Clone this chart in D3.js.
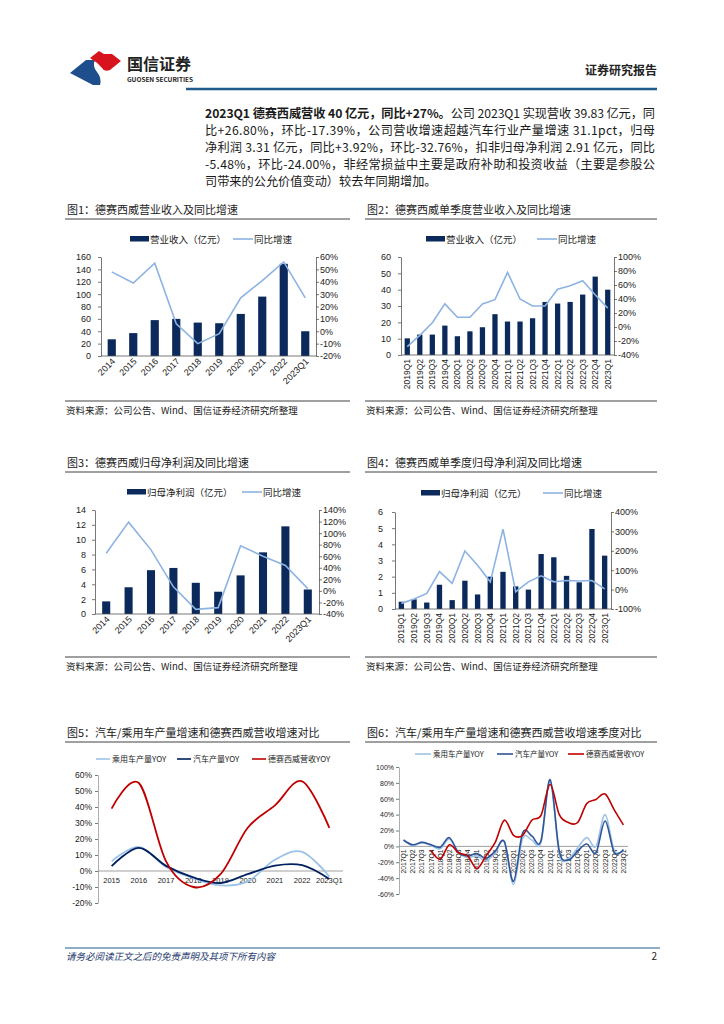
<!DOCTYPE html>
<html><head><meta charset="utf-8">
<script src="https://cdn.jsdelivr.net/npm/d3@7/dist/d3.min.js"></script>
<style>
body{margin:0;background:#fff}
svg{display:block}
text{font-family:"Noto Sans CJK SC","Noto Sans",sans-serif;fill:#222}
</style>
</head><body>
<svg id="c" width="724" height="1024"></svg>
<script>
// ---------------- DATA ----------------
const annualCats = ["2014","2015","2016","2017","2018","2019","2020","2021","2022","2023Q1"];
const annualRevenue = [27, 37, 58, 60, 54, 53, 68, 96, 149, 40];
const annualRevenueYoY = [48, 39, 55, 6, -10, -2, 27, 41, 56, 27];
const quarterCats = ["2019Q1","2019Q2","2019Q3","2019Q4","2020Q1","2020Q2","2020Q3","2020Q4","2021Q1","2021Q2","2021Q3","2021Q4","2022Q1","2022Q2","2022Q3","2022Q4","2023Q1"];
const quarterRevenue = [10.2, 12.5, 12.5, 18, 11.5, 14.5, 17, 25, 20.5, 20.5, 22.5, 32.5, 31.5, 32.5, 37, 48, 40];
const quarterRevenueYoY = [-28, -12, 6, 33, 14, 14, 33, 39, 78, 40, 30, 30, 54, 59, 66, 46, 27];
const annualProfit = [1.7, 3.6, 5.9, 6.2, 4.2, 3.0, 5.2, 8.3, 11.8, 3.3];
const annualProfitYoY = [65, 119, 71, 7, -32, -29, 78, 60, 44, 4];
const quarterProfit = [0.45, 0.6, 0.4, 1.5, 0.55, 1.75, 0.9, 2.0, 2.3, 1.4, 1.2, 3.4, 3.2, 2.05, 1.65, 4.95, 3.3];
const quarterProfitYoY = [-71, -48, -20, 93, 32, 199, 126, 40, 312, -11, 40, 71, 40, 47, 44, 47, 4];
const cmpYearCats = ["2015","2016","2017","2018","2019","2020","2021","2022","2023Q1"];
const paxCarYoY = [6, 15, 2.5, -4.5, -9, -6.5, 7, 12, -3.5];
const autoYoY = [3, 14.5, 3.2, -4, -7.5, -2, 3.4, 3.6, -5];
const desayYoY = [39, 55, 6, -10, -2, 27, 41, 56, 27];
const cmpQuarterCats = ["2017Q1","2017Q2","2017Q3","2017Q4","2018Q1","2018Q2","2018Q3","2018Q4","2019Q1","2019Q2","2019Q3","2019Q4","2020Q1","2020Q2","2020Q3","2020Q4","2021Q1","2021Q2","2021Q3","2021Q4","2022Q1","2022Q2","2022Q3","2022Q4","2023Q1"];
const paxCarQYoY = [8, 1, 5, 1, -3, 9, -8, -14, -12, -18, -8, 6, -48, 10, 8, 5, 83, -10, -15, -2, 11, 0, 40, -5, -5];
const autoQYoY = [8, 2, 5, 2, -1, 11, -8, -12, -9, -15, -6, 6, -44, 17, 13, 7, 84, -6, -17, -6, 3, -8, 32, -8, -4];
const desayQYoY = [null, null, null, -5, -16, 2, -8, -12, -28, -12, 5, 33, 14, 14, 33, 39, 78, 40, 30, 30, 54, 59, 66, 46, 27];

const ticksRev = [0,20,40,60,80,100,120,140,160];
const ticksRevYoY = [-20,-10,0,10,20,30,40,50,60];
const ticksQRev = [0,10,20,30,40,50,60];
const ticksQRevYoY = [-40,-20,0,20,40,60,80,100];
const ticksProfit = [0,2,4,6,8,10,12,14];
const ticksProfitYoY = [-40,-20,0,20,40,60,80,100,120,140];
const ticksQProfit = [0,1,2,3,4,5,6];
const ticksQProfitYoY = [-100,0,100,200,300,400];
const ticksCmpYear = [-20,-10,0,10,20,30,40,50,60];
const ticksCmpQuarter = [-60,-40,-20,0,20,40,60,80,100];

const paragraph = [
  [["2023Q1 德赛西威营收 40 亿元，同比+27%。", true], ["公司 2023Q1 实现营收 39.83 亿元，同", false]],
  [["比+26.80%，环比-17.39%，公司营收增速超越汽车行业产量增速 31.1pct，归母", false]],
  [["净利润 3.31 亿元，同比+3.92%，环比-32.76%，扣非归母净利润 2.91 亿元，同比", false]],
  [["-5.48%，环比-24.00%，非经常损益中主要是政府补助和投资收益（主要是参股公", false]],
  [["司带来的公允价值变动）较去年同期增加。", false]]
];

// ---------------- STYLE ----------------
const NAVY = "#0b2a5b", LIGHT = "#8db3e2", RED = "#c00000", DARK = "#002060", MID = "#2f5597", PAX = "#9dc3e6";
const svg = d3.select("#c");
const pct = v => v + "%";

// ---------------- HEADER ----------------
const hdr = svg.append("g");
hdr.append("path").attr("d","M70,73 L86,60 L95,60 Q92,66 97,72 Q102,78 100,85 L93,85 Z").attr("fill","#1f4e8c");
hdr.append("path").attr("d","M90,58 L99,51 L104,54 L112,54 L121,61 L110,70 Q104,72 102,68 Q97,62 90,58 Z").attr("fill","#d7141d");
hdr.append("text").attr("x",127).attr("y",70).attr("font-size",16).attr("font-weight","bold").attr("fill","#333").text("国信证券");
hdr.append("text").attr("x",127).attr("y",82).attr("font-size",6.5).attr("font-family","Liberation Sans, Arial").attr("font-weight","bold").attr("fill","#333").attr("textLength",66).text("GUOSEN SECURITIES");
hdr.append("line").attr("x1",186).attr("x2",657).attr("y1",89).attr("y2",89).attr("stroke","#1f5a8c").attr("stroke-width",2.5);
hdr.append("text").attr("x",657).attr("y",75).attr("text-anchor","end").attr("font-size",12).attr("font-weight","bold").attr("fill","#333").text("证券研究报告");

// ---------------- PARAGRAPH ----------------
paragraph.forEach((segs, i) => {
  const t = svg.append("text").attr("x",205).attr("y",118 + i*17).attr("font-size",12.2).style("fill","#1a1a1a");
  segs.forEach(s => t.append("tspan").attr("font-weight", s[1] ? "bold" : "normal").text(s[0]));
  if (i < paragraph.length - 1) t.attr("textLength",450).attr("lengthAdjust","spacing");
});

// ---------------- HELPERS ----------------
function titleBlock(x0, x1, y, txt){
  svg.append("text").attr("x",x0+2).attr("y",y).attr("font-size",11).text(txt);
  svg.append("line").attr("x1",x0).attr("x2",x1).attr("y1",y+5).attr("y2",y+5).attr("stroke","#808080").attr("stroke-width",1.5);
}
function sourceBlock(x0, x1, y){
  svg.append("line").attr("x1",x0).attr("x2",x1).attr("y1",y).attr("y2",y).attr("stroke","#808080").attr("stroke-width",1.3);
  svg.append("text").attr("x",x0+1).attr("y",y+13).attr("font-size",9.5).text("资料来源：公司公告、Wind、国信证券经济研究所整理");
}
function styleAxis(g, fs){
  g.selectAll("path,line").attr("stroke","#555").attr("stroke-width",0.8);
  g.selectAll("text").attr("font-size",fs).attr("fill","#222").style("font-family","'Liberation Sans',Arial,sans-serif");
}
function combo(c){
  const g = svg.append("g");
  const x = d3.scaleBand().domain(c.cats).range([c.xL, c.xR]);
  const y = d3.scaleLinear().domain(c.yDom).range([c.yB, c.yT]);
  const y2 = d3.scaleLinear().domain(c.y2Dom).range([c.yB, c.yT]);
  const bw = x.bandwidth()*c.barFrac;
  g.selectAll("rect.bar").data(c.bars).join("rect")
    .attr("x",(d,i)=>x(c.cats[i]) + (x.bandwidth()-bw)/2)
    .attr("y",d=>y(d)).attr("width",bw).attr("height",d=>y(0)-y(d)).attr("fill",NAVY);
  const line = d3.line().x((d,i)=>x(c.cats[i])+x.bandwidth()/2).y(d=>y2(d));
  g.append("path").attr("d",line(c.line)).attr("fill","none").attr("stroke",LIGHT).attr("stroke-width",1.6);
  const la = g.append("g").attr("transform",`translate(${c.xL},0)`)
    .call(d3.axisLeft(y).tickValues(c.yTicks).tickSize(3).tickSizeOuter(0).tickPadding(c.lpad).tickFormat(d=>d));
  styleAxis(la, 9);
  const ra = g.append("g").attr("transform",`translate(${c.xR},0)`)
    .call(d3.axisRight(y2).tickValues(c.y2Ticks).tickSize(3).tickSizeOuter(0).tickPadding(1).tickFormat(pct));
  styleAxis(ra, 9);
  g.append("line").attr("x1",c.xL).attr("x2",c.xR).attr("y1",c.yB).attr("y2",c.yB).attr("stroke","#555").attr("stroke-width",0.8);
  c.cats.forEach((cat,i)=>{
    const cx = x(cat)+x.bandwidth()/2;
    const t = g.append("text").attr("font-size",c.xfs).attr("text-anchor","end")
      .style("font-family","'Liberation Sans',Arial,sans-serif").text(cat);
    if (c.rot === -45) t.attr("transform",`translate(${cx+4},${c.yB+6}) rotate(-45)`);
    else t.attr("transform",`translate(${cx+3},${c.yB+4}) rotate(-90)`);
  });
  // legend
  g.append("rect").attr("x",c.lg[0]).attr("y",c.lgy-3).attr("width",19).attr("height",5.5).attr("fill",NAVY);
  g.append("text").attr("x",c.lg[0]+20).attr("y",c.lgy+3.5).attr("font-size",9.5).text(c.barName);
  g.append("line").attr("x1",c.lg[1]).attr("x2",c.lg[1]+20).attr("y1",c.lgy).attr("y2",c.lgy).attr("stroke",LIGHT).attr("stroke-width",1.6);
  g.append("text").attr("x",c.lg[1]+21).attr("y",c.lgy+3.5).attr("font-size",9.5).text("同比增速");
}

// ---------------- CHART 1 ----------------
titleBlock(65, 350, 214, "图1：德赛西威营业收入及同比增速");
combo({cats:annualCats, bars:annualRevenue, line:annualRevenueYoY, xL:101, xR:316, yT:257, yB:356,
  yDom:[0,160], yTicks:ticksRev, y2Dom:[-20,60], y2Ticks:ticksRevYoY, barFrac:0.38, rot:-45, xfs:9, lpad:7,
  lg:[130,233], lgy:239, barName:"营业收入（亿元）"});
sourceBlock(65, 350, 401);

// ---------------- CHART 2 ----------------
titleBlock(365, 657, 214, "图2：德赛西威单季度营业收入及同比增速");
combo({cats:quarterCats, bars:quarterRevenue, line:quarterRevenueYoY, xL:401, xR:614, yT:257, yB:355,
  yDom:[0,60], yTicks:ticksQRev, y2Dom:[-40,100], y2Ticks:ticksQRevYoY, barFrac:0.42, rot:-90, xfs:8.5, lpad:7,
  lg:[426,537], lgy:239, barName:"营业收入（亿元）"});
sourceBlock(365, 657, 401);

// ---------------- CHART 3 ----------------
titleBlock(65, 350, 467, "图3：德赛西威归母净利润及同比增速");
combo({cats:annualCats, bars:annualProfit, line:annualProfitYoY, xL:95, xR:319, yT:510, yB:614,
  yDom:[0,14], yTicks:ticksProfit, y2Dom:[-40,140], y2Ticks:ticksProfitYoY, barFrac:0.36, rot:-45, xfs:9, lpad:6,
  lg:[127,242], lgy:492, barName:"归母净利润（亿元）"});
sourceBlock(65, 350, 657);

// ---------------- CHART 4 ----------------
titleBlock(365, 657, 467, "图4：德赛西威单季度归母净利润及同比增速");
combo({cats:quarterCats, bars:quarterProfit, line:quarterProfitYoY, xL:395, xR:611, yT:512, yB:609,
  yDom:[0,6], yTicks:ticksQProfit, y2Dom:[-100,400], y2Ticks:ticksQProfitYoY, barFrac:0.42, rot:-90, xfs:8.5, lpad:9,
  lg:[421,543], lgy:493, barName:"归母净利润（亿元）"});
sourceBlock(365, 657, 657);

// ---------------- CHART 5 ----------------
titleBlock(65, 350, 737, "图5：汽车/乘用车产量增速和德赛西威营收增速对比");
(function(){
  const g = svg.append("g");
  const x = d3.scaleBand().domain(cmpYearCats).range([98, 343]);
  const y = d3.scaleLinear().domain([-20,60]).range([903, 775]);
  const cx = c => x(c)+x.bandwidth()/2;
  const la = g.append("g").attr("transform","translate(98,0)")
    .call(d3.axisLeft(y).tickValues(ticksCmpYear).tickSize(3).tickSizeOuter(0).tickPadding(3).tickFormat(pct));
  styleAxis(la, 8.5);
  la.select(".domain").attr("stroke","#999");
  g.append("line").attr("x1",98).attr("x2",343).attr("y1",y(0)).attr("y2",y(0)).attr("stroke","#888").attr("stroke-width",0.8);
  cmpYearCats.forEach(c=>{
    g.append("text").attr("x",cx(c)).attr("y",y(0)+12).attr("text-anchor","middle").attr("font-size",7.5)
      .style("font-family","'Liberation Sans',Arial,sans-serif").text(c);
  });
  const series = [[paxCarYoY, PAX],[autoYoY, DARK],[desayYoY, RED]];
  series.forEach(([vals,col])=>{
    const ln = d3.line().x((d,i)=>cx(cmpYearCats[i])).y(d=>y(d)).curve(d3.curveCardinal.tension(0));
    g.append("path").attr("d",ln(vals)).attr("fill","none").attr("stroke",col).attr("stroke-width",1.8);
  });
  const names = ["乘用车产量YOY","汽车产量YOY","德赛西威营收YOY"], lx = [96,177,252], ly = 759;
  names.forEach((n,i)=>{
    g.append("line").attr("x1",lx[i]).attr("x2",lx[i]+14).attr("y1",ly).attr("y2",ly).attr("stroke",series[i][1]).attr("stroke-width",1.6);
    g.append("text").attr("x",lx[i]+16).attr("y",ly+3).attr("font-size",8).text(n);
  });
})();

// ---------------- CHART 6 ----------------
titleBlock(365, 657, 737, "图6：汽车/乘用车产量增速和德赛西威营收增速季度对比");
(function(){
  const g = svg.append("g");
  const x = d3.scaleBand().domain(cmpQuarterCats).range([399, 628]);
  const y = d3.scaleLinear().domain([-60,100]).range([894, 767]);
  const cx = c => x(c)+x.bandwidth()/2;
  const la = g.append("g").attr("transform","translate(399,0)")
    .call(d3.axisLeft(y).tickValues(ticksCmpQuarter).tickSize(3).tickSizeOuter(0).tickPadding(2).tickFormat(pct));
  styleAxis(la, 7);
  la.select(".domain").attr("stroke","#999");
  g.append("line").attr("x1",399).attr("x2",628).attr("y1",y(0)).attr("y2",y(0)).attr("stroke","#888").attr("stroke-width",0.8);
  cmpQuarterCats.forEach(c=>{
    g.append("text").attr("transform",`translate(${cx(c)+2.5},${y(0)+3}) rotate(-90)`).attr("text-anchor","end").attr("font-size",6.8)
      .style("font-family","'Liberation Sans',Arial,sans-serif").text(c);
  });
  const series = [[paxCarQYoY, PAX],[autoQYoY, MID],[desayQYoY, RED]];
  series.forEach(([vals,col])=>{
    const ln = d3.line().defined(d=>d!==null).x((d,i)=>cx(cmpQuarterCats[i])).y(d=>y(d)).curve(d3.curveCardinal.tension(0));
    g.append("path").attr("d",ln(vals)).attr("fill","none").attr("stroke",col).attr("stroke-width",1.6);
  });
  const names = ["乘用车产量YOY","汽车产量YOY","德赛西威营收YOY"], lx = [415,497,568], ly = 754;
  names.forEach((n,i)=>{
    g.append("line").attr("x1",lx[i]).attr("x2",lx[i]+16).attr("y1",ly).attr("y2",ly).attr("stroke",series[i][1]).attr("stroke-width",1.6);
    g.append("text").attr("x",lx[i]+18).attr("y",ly+3).attr("font-size",7.5).text(n);
  });
})();

// ---------------- FOOTER ----------------
svg.append("line").attr("x1",65).attr("x2",660).attr("y1",948).attr("y2",948).attr("stroke","#1f5a8c").attr("stroke-width",1);
svg.append("text").attr("x",66).attr("y",960).attr("font-size",9.5).attr("font-style","italic").style("fill","#1f3c6e").text("请务必阅读正文之后的免责声明及其项下所有内容");
svg.append("text").attr("x",657).attr("y",960).attr("text-anchor","end").attr("font-size",10).text("2");
</script>
</body></html>
